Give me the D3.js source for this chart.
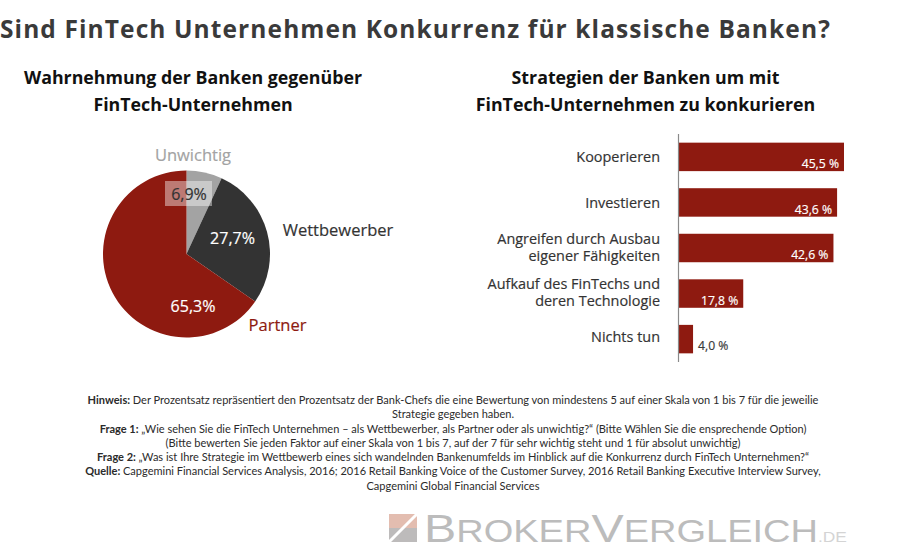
<!DOCTYPE html>
<html>
<head>
<meta charset="utf-8">
<script src="https://cdnjs.cloudflare.com/ajax/libs/d3/7.8.5/d3.min.js"></script>
<style>
  html, body { margin: 0; padding: 0; background: #fff; }
  svg { display: block; }
  text { font-family: "Open Sans", sans-serif; }
  .note { font-family: Lato, sans-serif; font-size: 11.02px; fill: #2b2b2b; }
  .medium { stroke-width: 0.18px; }
</style>
</head>
<body>
<svg id="chart" width="900" height="559"></svg>
<script>
var pieLabels = ["Unwichtig", "Wettbewerber", "Partner"];
var pieValues = [6.9, 27.7, 65.3];
var pieText = ["6,9%", "27,7%", "65,3%"];
var pieColors = ["#a3a3a3", "#333333", "#8e1a10"];

var barLabels = [
  ["Kooperieren"],
  ["Investieren"],
  ["Angreifen durch Ausbau", "eigener Fähigkeiten"],
  ["Aufkauf des FinTechs und", "deren Technologie"],
  ["Nichts tun"]
];
var barValues = [45.5, 43.6, 42.6, 17.8, 4.0];
var barText = ["45,5 %", "43,6 %", "42,6 %", "17,8 %", "4,0 %"];

var notes = [
  ["Hinweis:", "Der Prozentsatz repräsentiert den Prozentsatz der Bank-Chefs die eine Bewertung von mindestens 5 auf einer Skala von 1 bis 7 für die jeweilie"],
  ["", "Strategie gegeben haben."],
  ["Frage 1:", "„Wie sehen Sie die FinTech Unternehmen –  als Wettbewerber, als Partner oder als unwichtig?“ (Bitte Wählen Sie die ensprechende Option)"],
  ["", "(Bitte bewerten Sie jeden Faktor auf einer Skala von 1 bis 7, auf der 7 für sehr wichtig steht und 1 für absolut unwichtig)"],
  ["Frage 2:", "„Was ist Ihre Strategie im Wettbewerb eines sich wandelnden Bankenumfelds im Hinblick auf die Konkurrenz durch FinTech Unternehmen?“"],
  ["Quelle:", "Capgemini Financial Services Analysis, 2016; 2016 Retail Banking Voice of the Customer Survey, 2016 Retail Banking Executive Interview Survey,"],
  ["", "Capgemini Global Financial Services"]
];

var svg = d3.select("#chart");

svg.append("text").attr("x", 0).attr("y", 38)
  .attr("font-size", 24.5).attr("font-weight", 700).attr("letter-spacing", 1.1)
  .attr("fill", "#3a3a3a")
  .text("Sind FinTech Unternehmen Konkurrenz für klassische Banken?");

function heading(lines, cx) {
  lines.forEach(function(t, i) {
    svg.append("text").attr("x", cx).attr("y", 84 + i * 26.5)
      .attr("text-anchor", "middle").attr("font-size", 17.8).attr("font-weight", 700)
      .attr("fill", "#111").text(t);
  });
}
heading(["Wahrnehmung der Banken gegenüber", "FinTech-Unternehmen"], 193);
heading(["Strategien der Banken um mit", "FinTech-Unternehmen zu konkurieren"], 645.5);

// pie
var pieG = svg.append("g").attr("transform", "translate(186.5,254)");
var arc = d3.arc().innerRadius(0).outerRadius(83.5);
var arcs = d3.pie().sort(null).value(function(d) { return d; })(pieValues);
pieG.selectAll("path").data(arcs).join("path")
  .attr("d", arc)
  .attr("fill", function(d, i) { return pieColors[i]; });

svg.append("rect").attr("x", 165).attr("y", 181).attr("width", 47).attr("height", 25)
  .attr("fill", "#fff").attr("opacity", 0.42);

var pieLabelPos = [[189, 200, "#333"], [232.5, 244, "#fff"], [193, 312, "#fff"]];
pieText.forEach(function(t, i) {
  svg.append("text").attr("class", "medium").attr("x", pieLabelPos[i][0]).attr("y", pieLabelPos[i][1])
    .attr("text-anchor", "middle").attr("font-size", 16)
    .attr("fill", pieLabelPos[i][2]).attr("stroke", pieLabelPos[i][2]).text(t);
});
var pieNamePos = [[193, 161, "#a3a3a3"], [338, 236, "#333"], [277.5, 331, "#8e1a10"]];
pieLabels.forEach(function(t, i) {
  svg.append("text").attr("class", "medium").attr("x", pieNamePos[i][0]).attr("y", pieNamePos[i][1])
    .attr("text-anchor", "middle").attr("font-size", 16.5)
    .attr("fill", pieNamePos[i][2]).attr("stroke", pieNamePos[i][2]).text(t);
});

// bars
var x = d3.scaleLinear().domain([0, 45.5]).range([678.5, 844]);
var y = d3.scaleBand().domain(d3.range(barValues.length)).range([134, 362]).paddingInner(0.375).paddingOuter(0.19);

svg.selectAll("rect.bar").data(barValues).join("rect").attr("class", "bar")
  .attr("x", x(0))
  .attr("y", function(d, i) { return y(i); })
  .attr("width", function(d) { return x(d) - x(0); })
  .attr("height", y.bandwidth())
  .attr("fill", "#8e1a10");

svg.append("line").attr("x1", 678.5).attr("x2", 678.5).attr("y1", 134).attr("y2", 362)
  .attr("stroke", "#8a8a8a").attr("stroke-width", 1.2);

// label baseline relative to the bar centre
var labelNudge = [5.5, 5.5, 4, 4, 3];
barValues.forEach(function(d, i) {
  var outside = d < 10;
  var valueColor = outside ? "#3a3a3a" : "#fff";
  svg.append("text").attr("class", "medium")
    .attr("x", outside ? x(d) + 5 : x(d) - 5)
    .attr("y", y(i) + y.bandwidth() - 3)
    .attr("text-anchor", outside ? "start" : "end")
    .attr("font-size", 12.2)
    .attr("fill", valueColor).attr("stroke", valueColor).text(barText[i]);

  var cy = y(i) + y.bandwidth() / 2;
  var lab = svg.append("text").attr("class", "medium")
    .attr("text-anchor", "end").attr("font-size", 14.45)
    .attr("fill", "#333").attr("stroke", "#333");
  barLabels[i].forEach(function(t, j) {
    lab.append("tspan").attr("x", 660)
      .attr("y", cy + labelNudge[i] + (j - (barLabels[i].length - 1) / 2) * 17)
      .text(t);
  });
});

// notes
notes.forEach(function(line, i) {
  var t = svg.append("text").attr("class", "note").attr("x", 453).attr("y", 404 + i * 14.25)
    .attr("text-anchor", "middle");
  if (line[0]) t.append("tspan").attr("font-weight", 700).text(line[0] + " ");
  t.append("tspan").text(line[1]);
});

// logo
var logo = svg.append("g");
logo.append("rect").attr("x", 389).attr("y", 514).attr("width", 28).attr("height", 14).attr("fill", "#e3bdb0");
logo.append("rect").attr("x", 389).attr("y", 528).attr("width", 28).attr("height", 14).attr("fill", "#bdbbbb");
logo.append("line").attr("x1", 417).attr("y1", 514).attr("x2", 389).attr("y2", 542)
  .attr("stroke", "#fff").attr("stroke-width", 3);
var brand = logo.append("text").attr("fill", "#bcbcbc")
  .style("font-family", "'Liberation Sans', sans-serif");
brand.append("tspan").attr("font-size", 39).text("B");
brand.append("tspan").attr("font-size", 30.7).text("ROKER");
brand.append("tspan").attr("font-size", 39).text("V");
brand.append("tspan").attr("font-size", 30.7).text("ERGLEICH");
brand.append("tspan").attr("font-size", 14).attr("fill", "#d4d4d4").text(".DE");
var brandScale = 423 / brand.node().getComputedTextLength();
brand.attr("transform", "translate(424,542) scale(" + brandScale + ",1)");
</script>
</body>
</html>
